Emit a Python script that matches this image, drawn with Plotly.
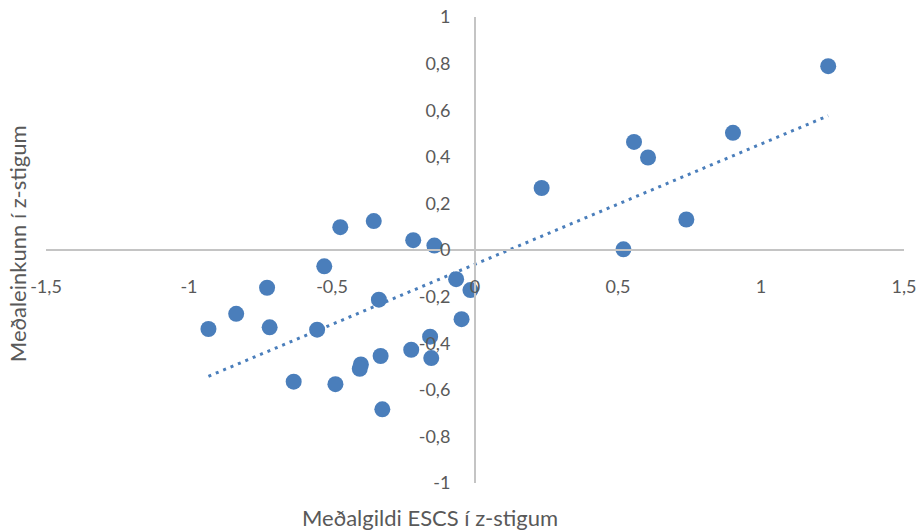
import numpy as np
import plotly.graph_objects as go

# Data
escs = [-0.932, -0.835, -0.727, -0.718, -0.634, -0.552, -0.527, -0.471, -0.488,
        -0.399, -0.403, -0.354, -0.336, -0.330, -0.324, -0.216, -0.223, -0.157,
        -0.153, -0.142, -0.066, -0.047, -0.016, 0.233, 0.519, 0.556, 0.605,
        0.739, 0.902, 1.235]
grade = [-0.339, -0.274, -0.162, -0.332, -0.565, -0.342, -0.070, 0.098, -0.576,
         -0.491, -0.510, 0.124, -0.213, -0.455, -0.684, 0.042, -0.428, -0.372,
         -0.464, 0.019, -0.125, -0.297, -0.172, 0.266, 0.003, 0.464, 0.397,
         0.131, 0.503, 0.789]

x_ticks = [-1.5, -1, -0.5, 0, 0.5, 1, 1.5]
x_tick_labels = ["-1,5", "-1", "-0,5", "0", "0,5", "1", "1,5"]
y_ticks = [-1, -0.8, -0.6, -0.4, -0.2, 0, 0.2, 0.4, 0.6, 0.8, 1]
y_tick_labels = ["-1", "-0,8", "-0,6", "-0,4", "-0,2", "0", "0,2", "0,4", "0,6", "0,8", "1"]

x_title = "Meðalgildi ESCS í z-stigum"
y_title = "Meðaleinkunn í z-stigum"

# Linear trendline (least squares fit of the data)
slope, intercept = np.polyfit(escs, grade, 1)
tx = [min(escs), max(escs)]
ty = [slope * v + intercept for v in tx]

marker_color = "#4A7EBB"
text_color = "#595959"
axis_color = "#C4C4C4"
font_family = "Lato, 'Open Sans', sans-serif"

fig = go.Figure()
fig.add_trace(go.Scatter(
    x=tx, y=ty, mode="lines",
    line=dict(color=marker_color, width=3, dash="3px,5px"),
    hoverinfo="skip", showlegend=False,
))
fig.add_trace(go.Scatter(
    x=escs, y=grade, mode="markers",
    marker=dict(color=marker_color, size=16, line=dict(width=0)),
    showlegend=False,
))

fig.update_layout(
    width=921, height=530,
    margin=dict(l=46, r=17, t=17, b=47, autoexpand=False),
    paper_bgcolor="white", plot_bgcolor="white",
    font=dict(family=font_family, color=text_color, size=18),
    xaxis=dict(
        range=[-1.5, 1.5], tickvals=x_ticks, ticktext=x_tick_labels,
        showgrid=False, zeroline=False, showline=True,
        linecolor=axis_color, linewidth=2,
        anchor="free", position=0.5, automargin=False,
        ticks="", ticklabelstandoff=20,
        tickfont=dict(size=18, color=text_color, family=font_family),
    ),
    yaxis=dict(
        range=[-1, 1], tickvals=y_ticks, ticktext=y_tick_labels,
        showgrid=False, zeroline=False, showline=True,
        linecolor=axis_color, linewidth=2,
        anchor="free", position=0.5, automargin=False,
        ticks="", ticklabelstandoff=20,
        tickfont=dict(size=18, color=text_color, family=font_family),
    ),
    annotations=[
        dict(text=x_title, xref="paper", yref="paper", x=0.448, y=-0.075,
             xanchor="center", yanchor="middle", showarrow=False,
             font=dict(size=22, color=text_color, family=font_family)),
        dict(text=y_title, xref="paper", yref="paper", x=-0.033, y=0.514,
             xanchor="center", yanchor="middle", showarrow=False, textangle=-90,
             font=dict(size=22, color=text_color, family=font_family)),
    ],
)

fig.write_html(
    "out.html",
    config={"displayModeBar": False},
    post_script="document.body.style.margin='0';document.body.style.padding='0';",
)
